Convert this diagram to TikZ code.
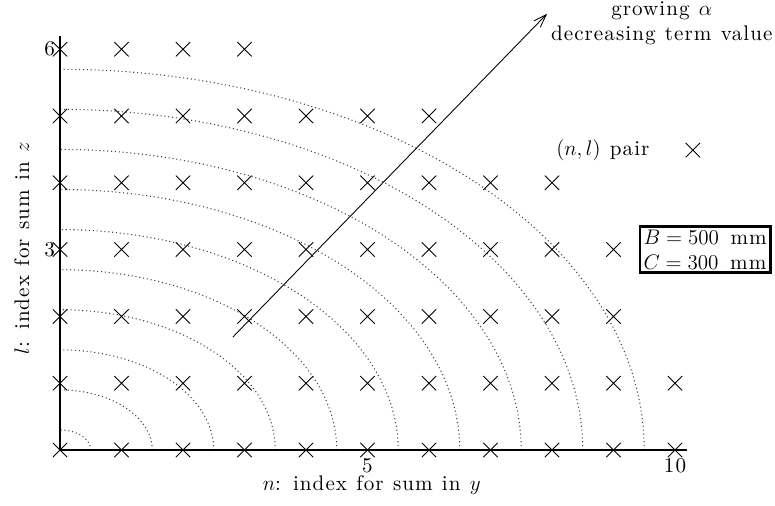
\documentclass[tikz,border=0pt]{standalone}
\usepackage{fontspec}
\newfontfamily\spacedrm{lmroman10-regular.otf}[LetterSpace=5, WordSpace=1.15]
\usepackage{tikz}
\usetikzlibrary{arrows.meta, positioning, shapes.misc}

\begin{document}
\begin{tikzpicture}[x=1.23cm, y=1.336cm,
        every node/.style={font=\fontsize{12}{14}\spacedrm},
        pairmark/.style={draw, cross out, minimum size=0.27cm, inner sep=0pt, line width=0.5pt},
        levelcurve/.style={dash pattern=on 0.6pt off 1.6pt, black!75, line width=0.6pt},
        axisline/.style={line width=0.8pt},
        infobox/.style={draw, line width=1.4pt, inner sep=2pt, align=left}]
        % Khung hình
        \useasboundingbox (-1.2cm,-1.1cm) rectangle (14.3cm,9.0cm);

        % Các đường mức (elip, tỉ lệ C/B = 0.6)
        \foreach \k in {0,...,9}
            \draw[levelcurve, domain=0:90, samples=50, smooth]
                plot ({(\k+0.5)*cos(\x)}, {0.6*(\k+0.5)*sin(\x)});

        % Trục
        \coordinate (origin) at (0,0);
        \coordinate (xend) at (10.2,0);
        \coordinate (yend) at (0,6.2);
        \draw[axisline] (origin) -- (xend);
        \draw[axisline] (origin) -- (yend);

        % Nhãn trục
        \node (tick5) at (5,-0.23) {5};
        \node (tick10) at (10,-0.23) {10};
        \node[anchor=east, inner sep=1pt] (tick3) at (-0.05,3) {3};
        \node[anchor=east, inner sep=1pt] (tick6) at (-0.05,6) {6};
        \node (xlabel) at (5.07,-0.53) {$n$: index for sum in $y$};
        \node[rotate=90] (ylabel) at (-0.62,3.02) {$l$: index for sum in $z$};

        % Các cặp (n,l)
        \foreach \l/\nmax in {0/10, 1/10, 2/9, 3/9, 4/8, 5/6, 6/3}
            \foreach \n in {0,...,\nmax}
                \node[pairmark] (p\n-\l) at (\n,\l) {};

        % Mũi tên hướng tăng
        \coordinate (arrstart) at (2.81,1.69);
        \coordinate (arrend) at (7.92,6.53);
        \draw[-{Straight Barb[length=2.6mm, width=1.8mm]}, line width=0.5pt] (arrstart) -- (arrend);
        \node[align=center, inner sep=0pt, anchor=north east] (growlbl) at (11.59,6.71) {growing $\alpha$\\decreasing term value};

        % Chú thích
        \node[pairmark] (legendmark) at (10.29,4.49) {};
        \node[anchor=east, inner sep=0pt] (pairlbl) at (9.59,4.49) {$(n,l)$ pair};
        \node[infobox, anchor=east] (dimbox) at (11.57,3)
            {$B = 500$\hspace{0.55em}mm\\$C = 300$\hspace{0.55em}mm};
\end{tikzpicture}
\end{document}
